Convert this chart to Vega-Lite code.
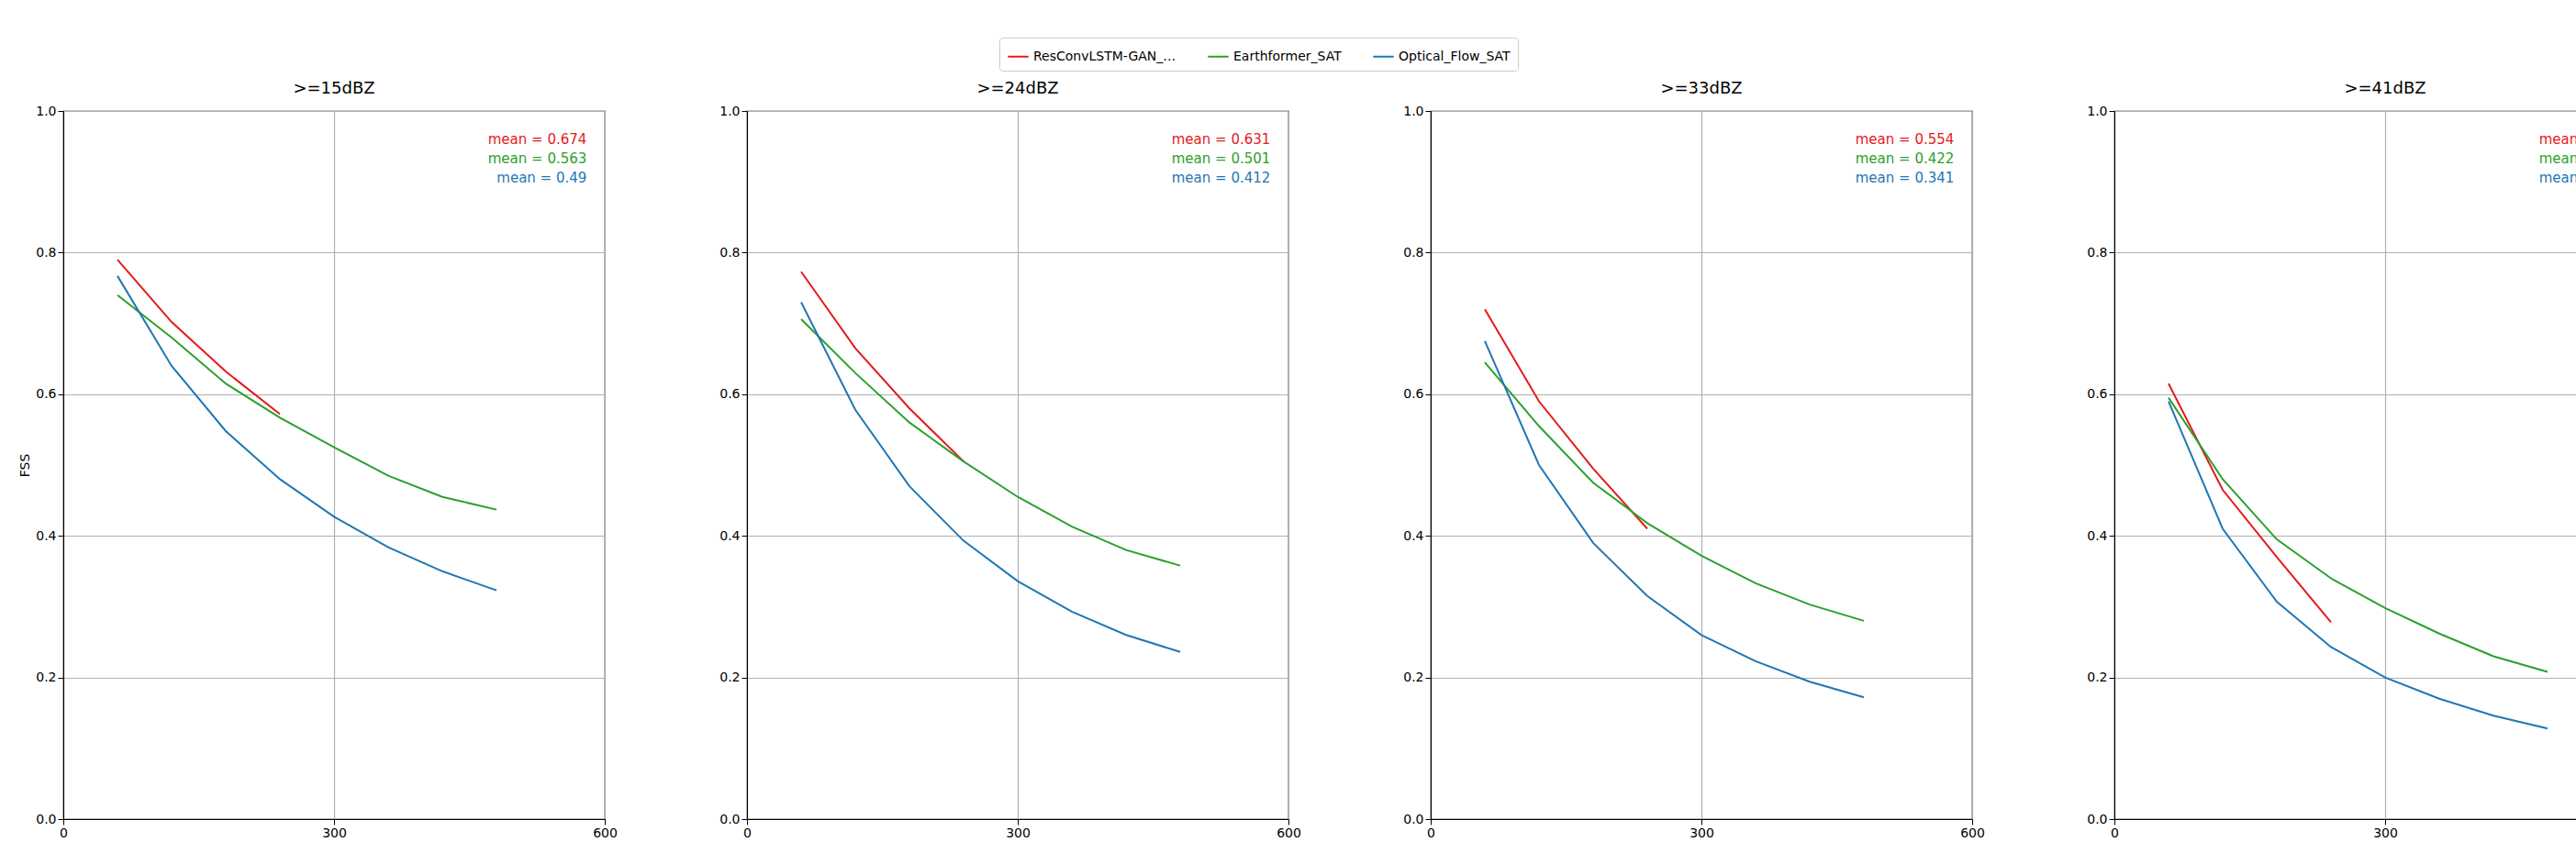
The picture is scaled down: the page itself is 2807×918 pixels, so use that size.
{
  "$schema": "https://vega.github.io/schema/vega-lite/v6.json",
  "padding": {"left": 20, "top": 40, "right": 0, "bottom": 0},
  "datasets": {
    "fss": [
      {"thr": ">=15dBZ", "model": "ResConvLSTM-GAN_SAT", "lead": 60, "fss": 0.790},
      {"thr": ">=15dBZ", "model": "ResConvLSTM-GAN_SAT", "lead": 120, "fss": 0.702},
      {"thr": ">=15dBZ", "model": "ResConvLSTM-GAN_SAT", "lead": 180, "fss": 0.632},
      {"thr": ">=15dBZ", "model": "ResConvLSTM-GAN_SAT", "lead": 240, "fss": 0.572},
      {"thr": ">=15dBZ", "model": "Earthformer_SAT", "lead": 60, "fss": 0.740},
      {"thr": ">=15dBZ", "model": "Earthformer_SAT", "lead": 120, "fss": 0.680},
      {"thr": ">=15dBZ", "model": "Earthformer_SAT", "lead": 180, "fss": 0.615},
      {"thr": ">=15dBZ", "model": "Earthformer_SAT", "lead": 240, "fss": 0.567},
      {"thr": ">=15dBZ", "model": "Earthformer_SAT", "lead": 300, "fss": 0.525},
      {"thr": ">=15dBZ", "model": "Earthformer_SAT", "lead": 360, "fss": 0.485},
      {"thr": ">=15dBZ", "model": "Earthformer_SAT", "lead": 420, "fss": 0.455},
      {"thr": ">=15dBZ", "model": "Earthformer_SAT", "lead": 480, "fss": 0.437},
      {"thr": ">=15dBZ", "model": "Optical_Flow_SAT", "lead": 60, "fss": 0.767},
      {"thr": ">=15dBZ", "model": "Optical_Flow_SAT", "lead": 120, "fss": 0.640},
      {"thr": ">=15dBZ", "model": "Optical_Flow_SAT", "lead": 180, "fss": 0.548},
      {"thr": ">=15dBZ", "model": "Optical_Flow_SAT", "lead": 240, "fss": 0.480},
      {"thr": ">=15dBZ", "model": "Optical_Flow_SAT", "lead": 300, "fss": 0.427},
      {"thr": ">=15dBZ", "model": "Optical_Flow_SAT", "lead": 360, "fss": 0.384},
      {"thr": ">=15dBZ", "model": "Optical_Flow_SAT", "lead": 420, "fss": 0.350},
      {"thr": ">=15dBZ", "model": "Optical_Flow_SAT", "lead": 480, "fss": 0.323},
      {"thr": ">=24dBZ", "model": "ResConvLSTM-GAN_SAT", "lead": 60, "fss": 0.773},
      {"thr": ">=24dBZ", "model": "ResConvLSTM-GAN_SAT", "lead": 120, "fss": 0.665},
      {"thr": ">=24dBZ", "model": "ResConvLSTM-GAN_SAT", "lead": 180, "fss": 0.580},
      {"thr": ">=24dBZ", "model": "ResConvLSTM-GAN_SAT", "lead": 240, "fss": 0.505},
      {"thr": ">=24dBZ", "model": "Earthformer_SAT", "lead": 60, "fss": 0.706},
      {"thr": ">=24dBZ", "model": "Earthformer_SAT", "lead": 120, "fss": 0.630},
      {"thr": ">=24dBZ", "model": "Earthformer_SAT", "lead": 180, "fss": 0.560},
      {"thr": ">=24dBZ", "model": "Earthformer_SAT", "lead": 240, "fss": 0.505},
      {"thr": ">=24dBZ", "model": "Earthformer_SAT", "lead": 300, "fss": 0.455},
      {"thr": ">=24dBZ", "model": "Earthformer_SAT", "lead": 360, "fss": 0.413},
      {"thr": ">=24dBZ", "model": "Earthformer_SAT", "lead": 420, "fss": 0.380},
      {"thr": ">=24dBZ", "model": "Earthformer_SAT", "lead": 480, "fss": 0.358},
      {"thr": ">=24dBZ", "model": "Optical_Flow_SAT", "lead": 60, "fss": 0.730},
      {"thr": ">=24dBZ", "model": "Optical_Flow_SAT", "lead": 120, "fss": 0.578},
      {"thr": ">=24dBZ", "model": "Optical_Flow_SAT", "lead": 180, "fss": 0.470},
      {"thr": ">=24dBZ", "model": "Optical_Flow_SAT", "lead": 240, "fss": 0.393},
      {"thr": ">=24dBZ", "model": "Optical_Flow_SAT", "lead": 300, "fss": 0.336},
      {"thr": ">=24dBZ", "model": "Optical_Flow_SAT", "lead": 360, "fss": 0.293},
      {"thr": ">=24dBZ", "model": "Optical_Flow_SAT", "lead": 420, "fss": 0.260},
      {"thr": ">=24dBZ", "model": "Optical_Flow_SAT", "lead": 480, "fss": 0.236},
      {"thr": ">=33dBZ", "model": "ResConvLSTM-GAN_SAT", "lead": 60, "fss": 0.720},
      {"thr": ">=33dBZ", "model": "ResConvLSTM-GAN_SAT", "lead": 120, "fss": 0.590},
      {"thr": ">=33dBZ", "model": "ResConvLSTM-GAN_SAT", "lead": 180, "fss": 0.495},
      {"thr": ">=33dBZ", "model": "ResConvLSTM-GAN_SAT", "lead": 240, "fss": 0.410},
      {"thr": ">=33dBZ", "model": "Earthformer_SAT", "lead": 60, "fss": 0.645},
      {"thr": ">=33dBZ", "model": "Earthformer_SAT", "lead": 120, "fss": 0.555},
      {"thr": ">=33dBZ", "model": "Earthformer_SAT", "lead": 180, "fss": 0.475},
      {"thr": ">=33dBZ", "model": "Earthformer_SAT", "lead": 240, "fss": 0.418},
      {"thr": ">=33dBZ", "model": "Earthformer_SAT", "lead": 300, "fss": 0.372},
      {"thr": ">=33dBZ", "model": "Earthformer_SAT", "lead": 360, "fss": 0.333},
      {"thr": ">=33dBZ", "model": "Earthformer_SAT", "lead": 420, "fss": 0.303},
      {"thr": ">=33dBZ", "model": "Earthformer_SAT", "lead": 480, "fss": 0.280},
      {"thr": ">=33dBZ", "model": "Optical_Flow_SAT", "lead": 60, "fss": 0.675},
      {"thr": ">=33dBZ", "model": "Optical_Flow_SAT", "lead": 120, "fss": 0.500},
      {"thr": ">=33dBZ", "model": "Optical_Flow_SAT", "lead": 180, "fss": 0.390},
      {"thr": ">=33dBZ", "model": "Optical_Flow_SAT", "lead": 240, "fss": 0.315},
      {"thr": ">=33dBZ", "model": "Optical_Flow_SAT", "lead": 300, "fss": 0.260},
      {"thr": ">=33dBZ", "model": "Optical_Flow_SAT", "lead": 360, "fss": 0.223},
      {"thr": ">=33dBZ", "model": "Optical_Flow_SAT", "lead": 420, "fss": 0.194},
      {"thr": ">=33dBZ", "model": "Optical_Flow_SAT", "lead": 480, "fss": 0.172},
      {"thr": ">=41dBZ", "model": "ResConvLSTM-GAN_SAT", "lead": 60, "fss": 0.615},
      {"thr": ">=41dBZ", "model": "ResConvLSTM-GAN_SAT", "lead": 120, "fss": 0.465},
      {"thr": ">=41dBZ", "model": "ResConvLSTM-GAN_SAT", "lead": 180, "fss": 0.370},
      {"thr": ">=41dBZ", "model": "ResConvLSTM-GAN_SAT", "lead": 240, "fss": 0.278},
      {"thr": ">=41dBZ", "model": "Earthformer_SAT", "lead": 60, "fss": 0.595},
      {"thr": ">=41dBZ", "model": "Earthformer_SAT", "lead": 120, "fss": 0.480},
      {"thr": ">=41dBZ", "model": "Earthformer_SAT", "lead": 180, "fss": 0.395},
      {"thr": ">=41dBZ", "model": "Earthformer_SAT", "lead": 240, "fss": 0.340},
      {"thr": ">=41dBZ", "model": "Earthformer_SAT", "lead": 300, "fss": 0.298},
      {"thr": ">=41dBZ", "model": "Earthformer_SAT", "lead": 360, "fss": 0.262},
      {"thr": ">=41dBZ", "model": "Earthformer_SAT", "lead": 420, "fss": 0.230},
      {"thr": ">=41dBZ", "model": "Earthformer_SAT", "lead": 480, "fss": 0.208},
      {"thr": ">=41dBZ", "model": "Optical_Flow_SAT", "lead": 60, "fss": 0.590},
      {"thr": ">=41dBZ", "model": "Optical_Flow_SAT", "lead": 120, "fss": 0.410},
      {"thr": ">=41dBZ", "model": "Optical_Flow_SAT", "lead": 180, "fss": 0.307},
      {"thr": ">=41dBZ", "model": "Optical_Flow_SAT", "lead": 240, "fss": 0.243},
      {"thr": ">=41dBZ", "model": "Optical_Flow_SAT", "lead": 300, "fss": 0.200},
      {"thr": ">=41dBZ", "model": "Optical_Flow_SAT", "lead": 360, "fss": 0.170},
      {"thr": ">=41dBZ", "model": "Optical_Flow_SAT", "lead": 420, "fss": 0.146},
      {"thr": ">=41dBZ", "model": "Optical_Flow_SAT", "lead": 480, "fss": 0.128}
    ],
    "means": [
      {"thr": ">=15dBZ", "model": "ResConvLSTM-GAN_SAT", "label": "mean = 0.674"},
      {"thr": ">=15dBZ", "model": "Earthformer_SAT", "label": "mean = 0.563"},
      {"thr": ">=15dBZ", "model": "Optical_Flow_SAT", "label": "mean = 0.49"},
      {"thr": ">=24dBZ", "model": "ResConvLSTM-GAN_SAT", "label": "mean = 0.631"},
      {"thr": ">=24dBZ", "model": "Earthformer_SAT", "label": "mean = 0.501"},
      {"thr": ">=24dBZ", "model": "Optical_Flow_SAT", "label": "mean = 0.412"},
      {"thr": ">=33dBZ", "model": "ResConvLSTM-GAN_SAT", "label": "mean = 0.554"},
      {"thr": ">=33dBZ", "model": "Earthformer_SAT", "label": "mean = 0.422"},
      {"thr": ">=33dBZ", "model": "Optical_Flow_SAT", "label": "mean = 0.341"},
      {"thr": ">=41dBZ", "model": "ResConvLSTM-GAN_SAT", "label": "mean = 0.433"},
      {"thr": ">=41dBZ", "model": "Earthformer_SAT", "label": "mean = 0.351"},
      {"thr": ">=41dBZ", "model": "Optical_Flow_SAT", "label": "mean = 0.275"}
    ]
  },
  "spacing": 110,
  "hconcat": [
    {
      "title": ">=15dBZ",
      "width": 590, "height": 772,
      "layer": [
        {"data": {"name": "fss"}, "transform": [{"filter": "datum.thr == '>=15dBZ'"}],
         "mark": {"type": "line", "strokeWidth": 2},
         "encoding": {
           "x": {"field": "lead", "type": "quantitative", "title": "Lead time [mins]", "scale": {"domain": [0, 600]}, "axis": {"values": [0, 300, 600]}},
           "y": {"field": "fss", "type": "quantitative", "title": "FSS", "scale": {"domain": [0, 1]}, "axis": {"values": [0, 0.2, 0.4, 0.6, 0.8, 1.0], "format": ".1f"}},
           "color": {"field": "model", "type": "nominal", "title": null, "sort": null}
         }},
        {"data": {"name": "means"}, "transform": [{"filter": "datum.thr == '>=15dBZ'"}],
         "mark": {"type": "text", "align": "right", "baseline": "middle"},
         "encoding": {"x": {"datum": 580}, "y": {"field": "model", "type": "nominal", "sort": null, "scale": {"type": "point", "range": [20, 84]}, "axis": null}, "text": {"field": "label"}, "color": {"field": "model", "type": "nominal", "sort": null}}}
      ],
      "resolve": {"scale": {"y": "independent"}}
    },
    {
      "title": ">=24dBZ",
      "width": 590, "height": 772,
      "layer": [
        {"data": {"name": "fss"}, "transform": [{"filter": "datum.thr == '>=24dBZ'"}],
         "mark": {"type": "line", "strokeWidth": 2},
         "encoding": {
           "x": {"field": "lead", "type": "quantitative", "title": "Lead time [mins]", "scale": {"domain": [0, 600]}, "axis": {"values": [0, 300, 600]}},
           "y": {"field": "fss", "type": "quantitative", "title": null, "scale": {"domain": [0, 1]}, "axis": {"values": [0, 0.2, 0.4, 0.6, 0.8, 1.0], "format": ".1f"}},
           "color": {"field": "model", "type": "nominal", "title": null, "sort": null}
         }},
        {"data": {"name": "means"}, "transform": [{"filter": "datum.thr == '>=24dBZ'"}],
         "mark": {"type": "text", "align": "right", "baseline": "middle"},
         "encoding": {"x": {"datum": 580}, "y": {"field": "model", "type": "nominal", "sort": null, "scale": {"type": "point", "range": [20, 84]}, "axis": null}, "text": {"field": "label"}, "color": {"field": "model", "type": "nominal", "sort": null}}}
      ],
      "resolve": {"scale": {"y": "independent"}}
    },
    {
      "title": ">=33dBZ",
      "width": 590, "height": 772,
      "layer": [
        {"data": {"name": "fss"}, "transform": [{"filter": "datum.thr == '>=33dBZ'"}],
         "mark": {"type": "line", "strokeWidth": 2},
         "encoding": {
           "x": {"field": "lead", "type": "quantitative", "title": "Lead time [mins]", "scale": {"domain": [0, 600]}, "axis": {"values": [0, 300, 600]}},
           "y": {"field": "fss", "type": "quantitative", "title": null, "scale": {"domain": [0, 1]}, "axis": {"values": [0, 0.2, 0.4, 0.6, 0.8, 1.0], "format": ".1f"}},
           "color": {"field": "model", "type": "nominal", "title": null, "sort": null}
         }},
        {"data": {"name": "means"}, "transform": [{"filter": "datum.thr == '>=33dBZ'"}],
         "mark": {"type": "text", "align": "right", "baseline": "middle"},
         "encoding": {"x": {"datum": 580}, "y": {"field": "model", "type": "nominal", "sort": null, "scale": {"type": "point", "range": [20, 84]}, "axis": null}, "text": {"field": "label"}, "color": {"field": "model", "type": "nominal", "sort": null}}}
      ],
      "resolve": {"scale": {"y": "independent"}}
    },
    {
      "title": ">=41dBZ",
      "width": 590, "height": 772,
      "layer": [
        {"data": {"name": "fss"}, "transform": [{"filter": "datum.thr == '>=41dBZ'"}],
         "mark": {"type": "line", "strokeWidth": 2},
         "encoding": {
           "x": {"field": "lead", "type": "quantitative", "title": "Lead time [mins]", "scale": {"domain": [0, 600]}, "axis": {"values": [0, 300, 600]}},
           "y": {"field": "fss", "type": "quantitative", "title": null, "scale": {"domain": [0, 1]}, "axis": {"values": [0, 0.2, 0.4, 0.6, 0.8, 1.0], "format": ".1f"}},
           "color": {"field": "model", "type": "nominal", "title": null, "sort": null}
         }},
        {"data": {"name": "means"}, "transform": [{"filter": "datum.thr == '>=41dBZ'"}],
         "mark": {"type": "text", "align": "right", "baseline": "middle"},
         "encoding": {"x": {"datum": 580}, "y": {"field": "model", "type": "nominal", "sort": null, "scale": {"type": "point", "range": [20, 84]}, "axis": null}, "text": {"field": "label"}, "color": {"field": "model", "type": "nominal", "sort": null}}}
      ],
      "resolve": {"scale": {"y": "independent"}}
    }
  ],
  "config": {
    "font": "DejaVu Sans",
    "view": {"stroke": "black", "strokeWidth": 1.2},
    "range": {"category": ["#e41a1c", "#2ca02c", "#1f77b4"]},
    "text": {"fontSize": 15},
    "title": {"fontSize": 18, "fontWeight": "normal", "offset": 8},
    "axis": {
      "labelFontSize": 14, "titleFontSize": 14, "titleFontWeight": "normal",
      "labelColor": "black", "titleColor": "black",
      "domainColor": "black", "tickColor": "black", "tickSize": 6,
      "gridColor": "#b0b0b0", "gridWidth": 1.2, "labelFlush": false
    },
    "legend": {
      "orient": "none", "direction": "horizontal", "legendX": 1020, "legendY": -80,
      "labelFontSize": 14, "symbolType": "stroke", "symbolStrokeWidth": 2,
      "symbolSize": 500, "columnPadding": 30, "padding": 8,
      "strokeColor": "#cccccc", "fillColor": "white", "cornerRadius": 3
    }
  }
}
